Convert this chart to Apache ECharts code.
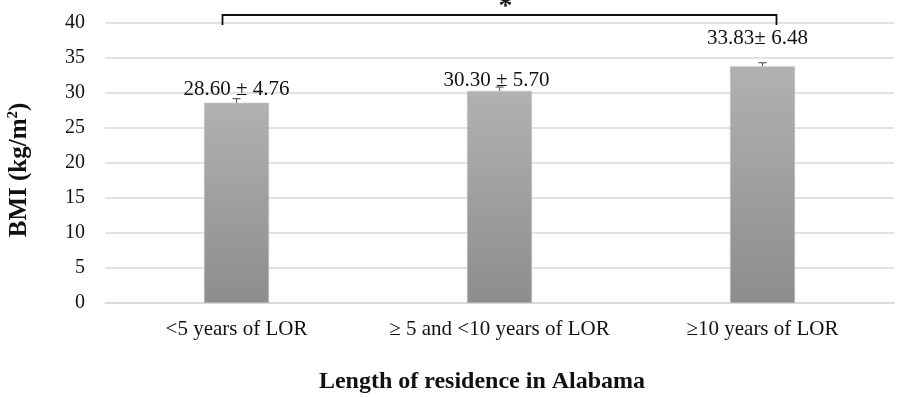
<!DOCTYPE html>
<html>
<head>
<meta charset="utf-8">
<script src="https://cdn.jsdelivr.net/npm/echarts@6/dist/echarts.min.js"></script>
<style>
  html, body { margin: 0; padding: 0; background: #fff; }
  #main { width: 903px; height: 397px; }
</style>
</head>
<body>
<div id="main"></div>
<script>
// data
var categories = ['<5 years of LOR', '\u2265 5 and <10 years of LOR', '\u226510 years of LOR'];
var bmiMean = [28.60, 30.30, 33.83];
var bmiErr = [0.6, 0.55, 0.5];           // small error bars drawn on the bars
var meanSdText = ['28.60 \u00b1 4.76', '30.30 \u00b1 5.70', '33.83\u00b1 6.48'];
var yTicks = [0, 5, 10, 15, 20, 25, 30, 35, 40];
var bracketPairs = [[0, 2]];
var bracketMarks = ['*'];

var serif = '"Liberation Serif", "DejaVu Serif", serif';
// label lifts above each bar (px) and small sideways nudges, as in the original
var labelLift = [3, 0, 17];
var labelNudge = [0, -3, -5];

var chart = echarts.init(document.getElementById('main'));

var barData = bmiMean.map(function (v, i) {
  return {
    value: v,
    label: { offset: [labelNudge[i], -labelLift[i]], formatter: meanSdText[i] }
  };
});

chart.setOption({
  animation: false,
  grid: { left: 105, right: 9, top: 23, bottom: 94, outerBoundsMode: 'none' },
  xAxis: {
    type: 'category',
    data: categories,
    axisLine: { lineStyle: { color: '#d9d9d9', width: 1.5 } },
    axisTick: { show: false },
    axisLabel: { color: '#111', fontFamily: serif, fontSize: 21, margin: 16, interval: 0 },
    name: 'Length of residence in Alabama',
    nameLocation: 'middle',
    nameGap: 67,
    nameTextStyle: { color: '#111', fontFamily: serif, fontSize: 24, fontWeight: 'bold', padding: [0, 35, 0, 0] }
  },
  yAxis: {
    type: 'value',
    min: yTicks[0],
    max: yTicks[yTicks.length - 1],
    interval: yTicks[1] - yTicks[0],
    axisLine: { show: false },
    axisTick: { show: false },
    splitLine: { lineStyle: { color: '#d9d9d9', width: 1.5 } },
    axisLabel: { color: '#111', fontFamily: serif, fontSize: 20, margin: 20 },
    name: 'BMI (kg/m{sup|2})',
    nameLocation: 'middle',
    nameGap: 72,
    nameTextStyle: {
      color: '#111', fontFamily: serif, fontSize: 25, fontWeight: 'bold',
      padding: [0, 14, 0, 0],
      rich: {
        sup: { fontFamily: serif, fontSize: 15, fontWeight: 'bold', color: '#111', verticalAlign: 'top', padding: [0, 0, 12, 0] }
      }
    }
  },
  series: [
    {
      type: 'bar',
      data: barData,
      barWidth: 65,
      z: 3,
      itemStyle: {
        color: {
          type: 'linear', x: 0, y: 0, x2: 0, y2: 1,
          colorStops: [
            { offset: 0, color: '#b2b1b2' },
            { offset: 1, color: '#8e8c8e' }
          ]
        },
        borderColor: '#c8c8c8',
        borderWidth: 0.5
      },
      label: {
        show: true,
        position: 'top',
        distance: 0,
        color: '#111',
        fontFamily: serif,
        fontSize: 21
      }
    },
    {
      // error bars
      type: 'custom',
      z: 4,
      data: bmiMean.map(function (v, i) { return [i, v, bmiErr[i]]; }),
      renderItem: function (params, api) {
        var top = api.coord([api.value(0), api.value(1) + api.value(2)]);
        var base = api.coord([api.value(0), api.value(1)]);
        var st = { stroke: '#5a5f6a', lineWidth: 1.2 };
        return {
          type: 'group',
          children: [
            { type: 'line', shape: { x1: top[0], y1: top[1], x2: base[0], y2: base[1] }, style: st },
            { type: 'line', shape: { x1: top[0] - 4, y1: top[1], x2: top[0] + 4, y2: top[1] }, style: st }
          ]
        };
      }
    },
    {
      // significance bracket
      type: 'custom',
      z: 5,
      clip: false,
      data: bracketPairs.map(function (p, i) { return [p[0], p[1], i]; }),
      renderItem: function (params, api) {
        var a = api.coord([api.value(0), 40]);
        var b = api.coord([api.value(1), 40]);
        var x1 = a[0] - 14, x2 = b[0] + 14;
        var yTop = a[1] - 8, yEnd = a[1] + 2;
        var st = { stroke: '#111', lineWidth: 1.8, fill: null };
        return {
          type: 'group',
          children: [
            { type: 'polyline', shape: { points: [[x1, yEnd], [x1, yTop], [x2, yTop], [x2, yEnd]] }, style: st },
            {
              type: 'text',
              style: {
                x: (x1 + x2) / 2 + 6, y: -7,
                text: bracketMarks[api.value(2)],
                fill: '#111', font: 'bold 28px ' + serif,
                align: 'center', verticalAlign: 'top'
              }
            }
          ]
        };
      }
    }
  ]
});
</script>
</body>
</html>
